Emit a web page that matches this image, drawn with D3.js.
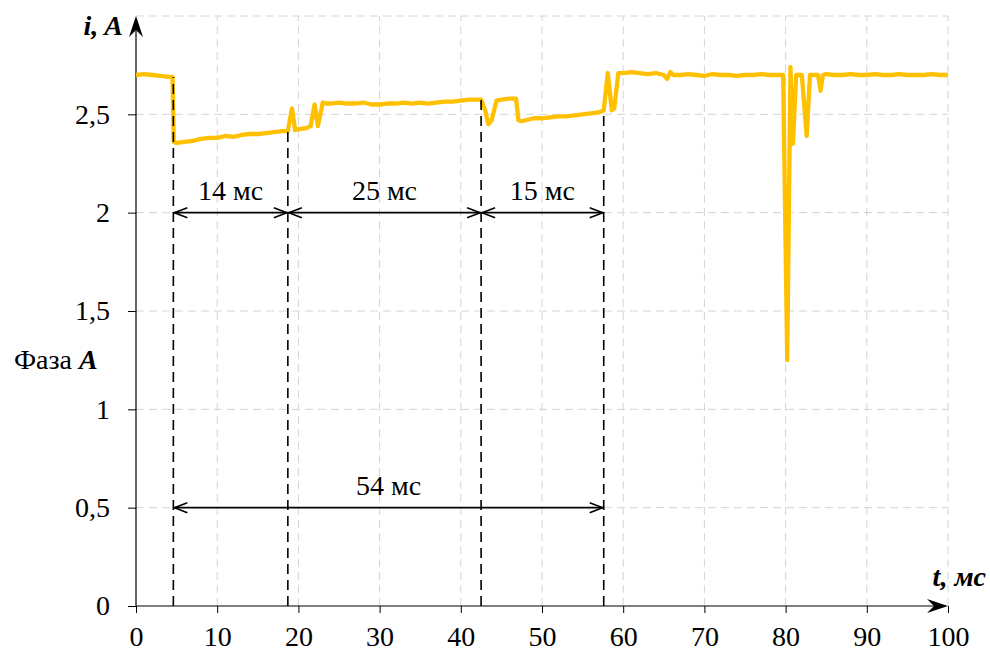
<!DOCTYPE html>
<html>
<head>
<meta charset="utf-8">
<script src="https://cdn.jsdelivr.net/npm/d3@7"></script>
<style>
  html, body { margin: 0; padding: 0; background: #fff; }
  svg { display: block; }
  svg text { font-family: "Liberation Serif", "Times New Roman", serif; fill: #000; }
</style>
</head>
<body>
<svg id="chart" width="990" height="653"></svg>
<script>
// Phase A current, ms vs A
const timeMs = [
  0, 1, 2, 3, 4, 4.5, 4.65, 5, 6, 7, 8, 9, 10, 11, 12, 13, 14, 15, 16, 17, 18, 18.7,
  19.2, 19.6, 20, 21, 21.5, 22, 22.4, 23, 23.4, 24, 25, 26, 27, 28, 29, 30, 31, 32, 33,
  34, 35, 36, 37, 38, 39, 40, 41, 42.5, 43, 43.4, 43.8, 44.4, 45, 46, 46.8, 47.1, 47.5,
  48, 49, 50, 51, 52, 53, 54, 55, 56, 57, 57.6, 58.1, 58.6, 58.9, 59.4, 60, 61, 62, 63,
  64, 65, 65.4, 65.8, 66.2, 67, 68, 69, 70, 71, 72, 73, 74, 75, 76, 77, 78, 79, 79.7,
  80.2, 80.6, 80.9, 81.3, 82, 82.6, 83, 84, 84.3, 84.6, 85, 86, 87, 88, 89, 90, 91, 92,
  93, 94, 95, 96, 97, 98, 99, 100
];
const currentA = [
  2.70, 2.705, 2.70, 2.695, 2.69, 2.69, 2.36, 2.355, 2.36, 2.365, 2.375, 2.38, 2.38, 2.39, 2.385, 2.395, 2.40, 2.40, 2.405, 2.41, 2.415, 2.415,
  2.53, 2.42, 2.425, 2.43, 2.44, 2.55, 2.44, 2.56, 2.555, 2.555, 2.56, 2.555, 2.555, 2.56, 2.55, 2.55, 2.555, 2.555, 2.56,
  2.555, 2.56, 2.555, 2.56, 2.565, 2.565, 2.57, 2.575, 2.575, 2.52, 2.45, 2.47, 2.57, 2.575, 2.58, 2.58, 2.47, 2.465,
  2.47, 2.48, 2.48, 2.485, 2.49, 2.49, 2.495, 2.50, 2.505, 2.51, 2.52, 2.71, 2.52, 2.53, 2.71, 2.71, 2.715, 2.71, 2.705,
  2.71, 2.70, 2.68, 2.715, 2.70, 2.70, 2.705, 2.70, 2.695, 2.705, 2.70, 2.70, 2.695, 2.70, 2.70, 2.705, 2.70, 2.70, 2.70,
  1.25, 2.74, 2.35, 2.70, 2.70, 2.39, 2.70, 2.70, 2.62, 2.70, 2.705, 2.70, 2.70, 2.705, 2.70, 2.70, 2.705, 2.70,
  2.70, 2.705, 2.70, 2.70, 2.70, 2.705, 2.70, 2.70
];

const xTicks = [0, 10, 20, 30, 40, 50, 60, 70, 80, 90, 100];
const yTicks = [0, 0.5, 1, 1.5, 2, 2.5];
const yGrid = [0.5, 1, 1.5, 2, 2.5, 3];

// Switching instants and the current level at each of them
const markerTimes = [4.6, 18.7, 42.5, 57.6];
const markerLevels = [2.69, 2.415, 2.575, 2.52];

// Interval annotations: from, to, level of the arrow, label
const spanFrom = [4.6, 18.7, 42.5, 4.6];
const spanTo = [18.7, 42.5, 57.6, 57.6];
const spanLevel = [2, 2, 2, 0.5];
const spanLabel = ["14 мс", "25 мс", "15 мс", "54 мс"];

const svg = d3.select("#chart");
const W = 990, H = 653;
const m = { left: 136, right: 42, top: 16, bottom: 47 };
const FONT = '"Liberation Serif", "Times New Roman", serif';
const FS = 28;

const x = d3.scaleLinear().domain([0, 100]).range([m.left, W - m.right]);
const y = d3.scaleLinear().domain([0, 3]).range([H - m.bottom, m.top]);

const fmt = v => String(v).replace(".", ",");

// grid
const grid = svg.append("g").attr("stroke", "#d4d4d4").attr("stroke-width", 1)
  .attr("stroke-dasharray", "8,5").attr("fill", "none");
grid.selectAll("line.v").data(xTicks.slice(1)).join("line")
  .attr("x1", d => x(d)).attr("x2", d => x(d))
  .attr("y1", y(0)).attr("y2", y(3));
grid.selectAll("line.h").data(yGrid).join("line")
  .attr("x1", x(0)).attr("x2", x(100))
  .attr("y1", d => y(d)).attr("y2", d => y(d));

// axes
const xAxis = svg.append("g").attr("transform", `translate(0,${y(0)})`)
  .call(d3.axisBottom(x).tickValues(xTicks).tickSize(7).tickPadding(13).tickFormat(fmt));
const yAxis = svg.append("g").attr("transform", `translate(${x(0)},0)`)
  .call(d3.axisLeft(y).tickValues(yTicks).tickSize(8).tickPadding(18).tickFormat(fmt));
[xAxis, yAxis].forEach(a => {
  a.attr("font-family", FONT).attr("font-size", FS);
  a.select(".domain").remove();
  a.selectAll(".tick line").attr("stroke", "#000").attr("stroke-width", 1);
  a.selectAll(".tick text").attr("fill", "#000");
});

svg.append("line").attr("x1", x(0)).attr("x2", x(100) - 6).attr("y1", y(0)).attr("y2", y(0))
  .attr("stroke", "#000").attr("stroke-width", 1.2);
svg.append("line").attr("x1", x(0)).attr("x2", x(0)).attr("y1", y(0)).attr("y2", y(3) + 6)
  .attr("stroke", "#000").attr("stroke-width", 1.2);

// axis arrowheads
const ax = x(100), ay = y(0);
svg.append("path")
  .attr("d", `M${ax},${ay} L${ax - 21},${ay - 7} L${ax - 14},${ay} L${ax - 21},${ay + 7} Z`)
  .attr("fill", "#000");
const bx = x(0), by = y(3);
svg.append("path")
  .attr("d", `M${bx},${by} L${bx - 7},${by + 21} L${bx},${by + 14} L${bx + 7},${by + 21} Z`)
  .attr("fill", "#000");

// current curve
const pts = timeMs.map((t, i) => [t, currentA[i]]);
svg.append("path").datum(pts)
  .attr("fill", "none").attr("stroke", "#FFC000").attr("stroke-width", 4.3)
  .attr("stroke-linejoin", "round")
  .attr("d", d3.line().x(d => x(d[0])).y(d => y(d[1])));

// switching instants
svg.append("g").selectAll("line").data(markerTimes).join("line")
  .attr("x1", d => x(d)).attr("x2", d => x(d))
  .attr("y1", y(0)).attr("y2", (d, i) => y(markerLevels[i]))
  .attr("stroke", "#000").attr("stroke-width", 1.6).attr("stroke-dasharray", "10,6");

// interval arrows
const spans = spanFrom.map((f, i) => ({ f, t: spanTo[i], v: spanLevel[i], label: spanLabel[i] }));
const sg = svg.append("g");
spans.forEach(s => {
  const x1 = x(s.f), x2 = x(s.t), yy = y(s.v);
  sg.append("line").attr("x1", x1).attr("x2", x2).attr("y1", yy).attr("y2", yy)
    .attr("stroke", "#000").attr("stroke-width", 1.6);
  sg.append("path")
    .attr("d", `M${x1 + 14},${yy - 5} L${x1 + 1},${yy} L${x1 + 14},${yy + 5}`)
    .attr("fill", "none").attr("stroke", "#000").attr("stroke-width", 1.6);
  sg.append("path")
    .attr("d", `M${x2 - 14},${yy - 5} L${x2 - 1},${yy} L${x2 - 14},${yy + 5}`)
    .attr("fill", "none").attr("stroke", "#000").attr("stroke-width", 1.6);
  sg.append("text").attr("x", (x1 + x2) / 2).attr("y", yy - 13)
    .attr("text-anchor", "middle").attr("font-size", FS).text(s.label);
});

// axis titles
svg.append("text").attr("x", 123).attr("y", 35).attr("text-anchor", "end")
  .attr("font-size", FS).attr("font-weight", "bold").attr("font-style", "italic")
  .text("i, A");

svg.append("text").attr("x", 986).attr("y", 586).attr("text-anchor", "end")
  .attr("font-size", FS).attr("font-weight", "bold").attr("font-style", "italic")
  .text("t, мс");

const ph = svg.append("text").attr("x", 14).attr("y", 369).attr("font-size", FS);
ph.append("tspan").text("Фаза ");
ph.append("tspan").attr("font-weight", "bold").attr("font-style", "italic").text("A");
</script>
</body>
</html>
